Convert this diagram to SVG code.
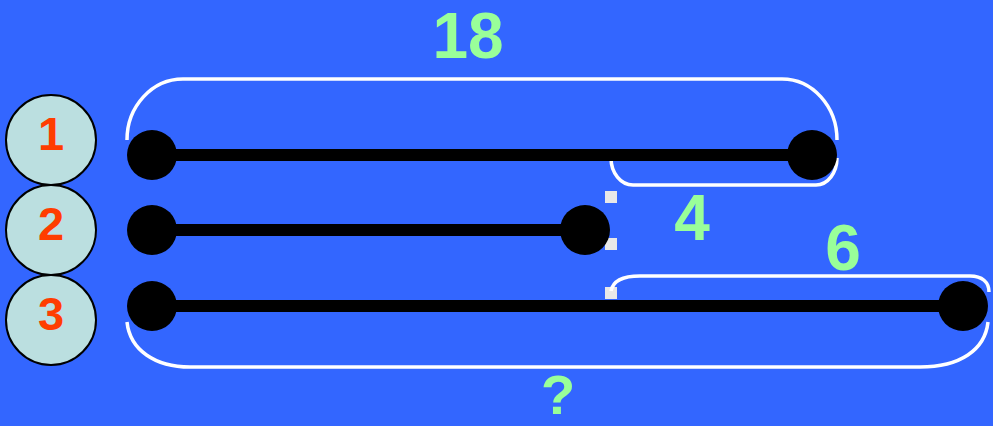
<svg xmlns="http://www.w3.org/2000/svg" width="993" height="426" viewBox="0 0 993 426">
<style>
.bg{fill:#3366FF}
.lbl{fill:#BBDFE0;stroke:#000;stroke-width:2}
.num{font-family:"Liberation Sans",Arial,sans-serif;font-weight:bold;fill:#FF3D00;font-size:47px;text-anchor:middle}
.val{font-family:"Liberation Sans",Arial,sans-serif;font-weight:bold;fill:#99FF99;text-anchor:middle}
.seg{stroke:#000;stroke-width:12;fill:none}
.dot{fill:#000}
.brace{stroke:#fff;stroke-width:3.5;fill:none}
.hdl{fill:#E8E8E8}
</style>
<rect class="bg" x="0" y="0" width="993" height="426"/>
<g id="labels">
<g id="label1"><circle class="lbl" cx="51" cy="140" r="45"/><text class="num" x="51" y="150">1</text></g>
<g id="label2"><circle class="lbl" cx="51" cy="230" r="45"/><text class="num" x="51" y="240">2</text></g>
<g id="label3"><circle class="lbl" cx="51" cy="320" r="45"/><text class="num" x="51" y="330">3</text></g>
</g>
<g id="handles">
<rect class="hdl" x="605" y="191" width="12" height="12"/>
<rect class="hdl" x="605" y="238" width="12" height="12"/>
<rect class="hdl" x="605" y="287" width="12" height="12"/>
</g>
<g id="connectors">
<path class="brace" d="M127,140 A56,61 0 0 1 183,79 H782 A55,61 0 0 1 837,140"/>
<path class="brace" d="M611,155 V158 A22,27 0 0 0 633,185 H816 A21,27 0 0 0 837,158"/>
<path class="brace" d="M611,291 C613,280 625,276 640,276 H970 C982,276 989,282 989,292"/>
<path class="brace" d="M127,322 C130,350 155,367 190,367 H920 C960,367 985,350 988,322"/>
<line class="seg" x1="152" y1="155" x2="812" y2="155"/>
<line class="seg" x1="152" y1="230" x2="585" y2="230"/>
<line class="seg" x1="152" y1="306" x2="963" y2="306"/>
</g>
<g id="segment1"><circle class="dot" cx="152" cy="155" r="25"/><circle class="dot" cx="812" cy="155" r="25"/></g>
<g id="segment2"><circle class="dot" cx="152" cy="230" r="25"/><circle class="dot" cx="585" cy="230" r="25"/></g>
<g id="segment3"><circle class="dot" cx="152" cy="306" r="25"/><circle class="dot" cx="963" cy="306" r="25"/></g>
<g id="values">
<text class="val" x="468" y="58" font-size="64">18</text>
<text class="val" x="692" y="240" font-size="64">4</text>
<text class="val" x="843" y="270" font-size="64">6</text>
<text class="val" x="558" y="414" font-size="56">?</text>
</g>
</svg>
